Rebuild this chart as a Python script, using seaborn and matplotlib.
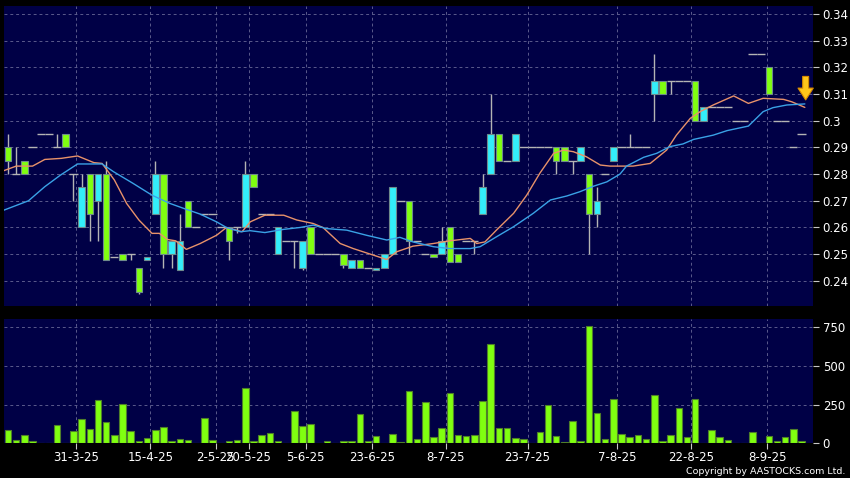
"""Daily candlestick chart with 10/20 day averages and a volume panel."""
import matplotlib
matplotlib.use("Agg")
import numpy as np
import pandas as pd
import matplotlib.pyplot as plt
import seaborn as sns

# one entry per trading day, oldest first
OPEN = [0.290, 0.280, 0.285, 0.290, 0.295, 0.295, 0.290, 0.295, 0.280, 0.260,
        0.280, 0.270, 0.280, 0.249, 0.250, 0.250, 0.245, 0.248, 0.265, 0.280,
        0.250, 0.244, 0.270, 0.260, 0.265, 0.265, 0.260, 0.260, 0.260, 0.260,
        0.280, 0.265, 0.265, 0.250, 0.255, 0.255, 0.245, 0.260, 0.250, 0.250,
        0.250, 0.250, 0.245, 0.248, 0.245, 0.244, 0.245, 0.250, 0.270, 0.270,
        0.255, 0.250, 0.250, 0.250, 0.260, 0.250, 0.255, 0.255, 0.265, 0.280,
        0.295, 0.285, 0.285, 0.290, 0.290, 0.290, 0.290, 0.290, 0.290, 0.285,
        0.285, 0.280, 0.265, 0.280, 0.285, 0.290, 0.290, 0.290, 0.290, 0.310,
        0.315, 0.315, 0.315, 0.315, 0.315, 0.300, 0.305, 0.305, 0.305, 0.300,
        0.300, 0.325, 0.325, 0.320, 0.300, 0.300, 0.290, 0.295]
CLOSE = [0.285, 0.280, 0.280, 0.290, 0.295, 0.295, 0.290, 0.290, 0.280, 0.275,
         0.265, 0.280, 0.248, 0.249, 0.248, 0.250, 0.236, 0.249, 0.280, 0.250,
         0.255, 0.255, 0.260, 0.260, 0.265, 0.265, 0.260, 0.255, 0.260, 0.280,
         0.275, 0.265, 0.265, 0.260, 0.255, 0.255, 0.255, 0.250, 0.250, 0.250,
         0.250, 0.246, 0.248, 0.245, 0.245, 0.245, 0.250, 0.275, 0.270, 0.255,
         0.255, 0.250, 0.249, 0.255, 0.247, 0.247, 0.255, 0.255, 0.275, 0.295,
         0.285, 0.285, 0.295, 0.290, 0.290, 0.290, 0.290, 0.285, 0.285, 0.285,
         0.290, 0.265, 0.270, 0.280, 0.290, 0.290, 0.290, 0.290, 0.290, 0.315,
         0.310, 0.315, 0.315, 0.315, 0.300, 0.305, 0.305, 0.305, 0.305, 0.300,
         0.300, 0.325, 0.325, 0.310, 0.300, 0.300, 0.290, 0.295]
HIGH = [0.295, 0.290, 0.285, 0.290, 0.295, 0.295, 0.295, 0.295, 0.280, 0.280,
        0.280, 0.280, 0.285, 0.249, 0.250, 0.250, 0.245, 0.249, 0.285, 0.280,
        0.255, 0.265, 0.270, 0.260, 0.265, 0.265, 0.260, 0.260, 0.260, 0.285,
        0.280, 0.265, 0.265, 0.260, 0.255, 0.255, 0.255, 0.260, 0.250, 0.250,
        0.250, 0.250, 0.248, 0.248, 0.245, 0.245, 0.250, 0.275, 0.270, 0.270,
        0.255, 0.250, 0.250, 0.260, 0.260, 0.250, 0.255, 0.255, 0.280, 0.310,
        0.295, 0.285, 0.295, 0.290, 0.290, 0.290, 0.290, 0.290, 0.290, 0.285,
        0.290, 0.280, 0.275, 0.280, 0.290, 0.290, 0.295, 0.290, 0.290, 0.325,
        0.315, 0.315, 0.315, 0.315, 0.315, 0.305, 0.305, 0.305, 0.305, 0.300,
        0.300, 0.325, 0.325, 0.320, 0.300, 0.300, 0.290, 0.295]
LOW = [0.280, 0.280, 0.280, 0.290, 0.295, 0.295, 0.290, 0.290, 0.270, 0.260,
       0.255, 0.255, 0.248, 0.249, 0.248, 0.248, 0.235, 0.248, 0.265, 0.245,
       0.245, 0.244, 0.260, 0.260, 0.265, 0.265, 0.260, 0.248, 0.258, 0.260,
       0.275, 0.265, 0.265, 0.250, 0.255, 0.245, 0.244, 0.250, 0.250, 0.250,
       0.250, 0.245, 0.245, 0.245, 0.245, 0.244, 0.245, 0.250, 0.270, 0.250,
       0.255, 0.250, 0.249, 0.250, 0.247, 0.247, 0.255, 0.250, 0.265, 0.280,
       0.285, 0.285, 0.285, 0.290, 0.290, 0.290, 0.290, 0.280, 0.285, 0.280,
       0.285, 0.250, 0.260, 0.280, 0.285, 0.290, 0.290, 0.290, 0.290, 0.300,
       0.310, 0.310, 0.315, 0.315, 0.300, 0.300, 0.305, 0.305, 0.305, 0.300,
       0.300, 0.325, 0.325, 0.310, 0.300, 0.300, 0.290, 0.295]
VOLUME = [88, 21, 54, 13, 6, 6, 118, 6, 79, 155,
          94, 279, 137, 54, 258, 79, 17, 34, 90, 109,
          13, 28, 24, 2, 167, 24, 6, 17, 24, 360,
          17, 58, 67, 19, 2, 208, 114, 127, 6, 19,
          2, 13, 13, 193, 13, 49, 2, 64, 9, 337,
          32, 266, 43, 103, 326, 58, 47, 52, 277, 640,
          103, 97, 34, 28, 4, 73, 247, 47, 9, 146,
          17, 760, 197, 28, 288, 62, 39, 56, 28, 315,
          13, 54, 227, 41, 290, 6, 86, 43, 24, 4,
          6, 77, 4, 47, 19, 39, 92, 13]

# moving averages (bar position, price)
MA10_X = [-0.5, 1, 3, 4.5, 6.5, 8.5, 10.5, 11.5, 13, 14.5, 16, 17.6, 18.5,
          19.5, 20.5, 21.8, 23.5, 25.5, 26.7, 28.6, 29.6, 31.4, 33.7, 35.3,
          37.3, 38.5, 40.6, 42.2, 44.7, 46.3, 47.5, 49.5, 52, 54, 56.5, 57.3,
          58.3, 59.7, 61.8, 63.4, 65, 66.7, 67.9, 69.1, 70.7, 72.4, 73.6,
          76.4, 78.5, 80.5, 81.7, 83.4, 84.6, 86.2, 88.7, 90.5, 92.3, 94.8,
          95.8, 97.4]
MA10_Y = [0.2813, 0.2830, 0.2830, 0.2855, 0.2859, 0.2868, 0.2843, 0.2840,
          0.2778, 0.2690, 0.2628, 0.2578, 0.2578, 0.2555, 0.2550, 0.2518,
          0.2540, 0.2571, 0.2600, 0.2584, 0.2621, 0.2646, 0.2646, 0.2628,
          0.2615, 0.2600, 0.2540, 0.2521, 0.2496, 0.2480, 0.2509, 0.2530,
          0.2540, 0.2550, 0.2559, 0.2540, 0.2546, 0.2590, 0.2653, 0.2721,
          0.2803, 0.2878, 0.2890, 0.2884, 0.2865, 0.2834, 0.2830, 0.2830,
          0.2840, 0.2890, 0.2946, 0.3009, 0.3034, 0.3059, 0.3093, 0.3065,
          0.3084, 0.3080, 0.3071, 0.3050]
MA20_X = [-0.5, 2.5, 4.5, 6.4, 8.5, 11.5, 12.9, 15.3, 17.6, 19.8, 21.8, 23.5,
          25.5, 26.7, 28.4, 29.6, 31.4, 33.7, 35.7, 37.3, 38.9, 41.4, 43.8,
          46.3, 47.9, 49.5, 52, 54, 56.5, 57.7, 59.7, 61.8, 64.2, 66.3, 68.3,
          69.9, 71.6, 73.2, 74.8, 75.6, 77.7, 79.3, 80.9, 82.5, 83.8, 86.2,
          87.9, 90.5, 92.3, 93.5, 95.2, 97.4]
MA20_Y = [0.2665, 0.2700, 0.2753, 0.2796, 0.2838, 0.2838, 0.2809, 0.2765,
          0.2721, 0.2690, 0.2668, 0.2650, 0.2621, 0.2600, 0.2584, 0.2588,
          0.2581, 0.2593, 0.2600, 0.2609, 0.2596, 0.2590, 0.2571, 0.2553,
          0.2563, 0.2546, 0.2528, 0.2521, 0.2521, 0.2528, 0.2565, 0.2603,
          0.2653, 0.2703, 0.2718, 0.2734, 0.2755, 0.2771, 0.2800, 0.2830,
          0.2863, 0.2878, 0.2903, 0.2913, 0.2930, 0.2946, 0.2963, 0.2980,
          0.3034, 0.3049, 0.3059, 0.3063]

DATE_LABELS = ["31-3-25", "15-4-25", "2-5-25", "20-5-25", "5-6-25", "23-6-25",
               "8-7-25", "23-7-25", "7-8-25", "22-8-25", "8-9-25"]
DATE_POS = [8.3, 17.4, 25.4, 29.4, 36.4, 44.5, 53.5, 63.5, 74.5, 83.5, 92.8]
PRICE_TICKS = [0.24, 0.25, 0.26, 0.27, 0.28, 0.29, 0.30, 0.31, 0.32, 0.33, 0.34]
VOLUME_TICKS = [0, 250, 500, 750]

NAVY = "#000046"
GRID = "#5a5a8c"
UP = "#33eefa"
DOWN = "#80ff10"


def style_axis(ax):
    ax.set_facecolor(NAVY)
    for s in ax.spines.values():
        s.set_visible(False)
    ax.yaxis.tick_right()
    ax.tick_params(axis="y", colors="#c8c8c8", labelcolor="white",
                   labelsize=8.5, length=4, width=0.8, pad=3)
    ax.grid(False)
    for x in DATE_POS:
        ax.axvline(x, color=GRID, lw=0.7, dashes=(3, 3), zorder=0)


def main():
    sns.set_style("dark")
    plt.rcParams["font.family"] = ["DejaVu Sans"]

    df = pd.DataFrame({"open": OPEN, "close": CLOSE, "high": HIGH,
                       "low": LOW, "volume": VOLUME})
    df["pos"] = np.arange(len(df))
    flat = df["open"] == df["close"]
    up = df["close"] > df["open"]

    fig = plt.figure(figsize=(8.5, 4.78), dpi=100, facecolor="black")
    ax = fig.add_axes([0.0047, 0.3605, 0.9518, 0.627])
    axv = fig.add_axes([0.0047, 0.0722, 0.9518, 0.2604])
    style_axis(ax)
    style_axis(axv)

    # price panel
    for y in PRICE_TICKS:
        ax.axhline(y, color=GRID, lw=0.7, dashes=(3, 3), zorder=0)
    ax.vlines(df["pos"], df["low"], df["high"], color="#b4b4b4", lw=1, zorder=2)
    ax.hlines(df.loc[flat, "close"], df.loc[flat, "pos"] - 0.5,
              df.loc[flat, "pos"] + 0.5, color="#b4b4b4", lw=1, zorder=2)
    body = df[~flat]
    bottom = body[["open", "close"]].min(axis=1)
    height = (body["open"] - body["close"]).abs()
    colors = [UP if u else DOWN for u in up[~flat]]
    ax.bar(body["pos"], height, bottom=bottom, width=0.8, color=colors,
           edgecolor="#6e8a8c", linewidth=0.8, zorder=3)
    sns.lineplot(x=MA10_X, y=MA10_Y, ax=ax, color="#e8926a", lw=1,
                 sort=False, estimator=None, zorder=4)
    sns.lineplot(x=MA20_X, y=MA20_Y, ax=ax, color="#3aa2e6", lw=1,
                 sort=False, estimator=None, zorder=4)
    ax.annotate("", xy=(97.5, 0.3078), xytext=(97.5, 0.3166),
                arrowprops=dict(facecolor="#ffc61a", edgecolor="#d88a00",
                                width=4.3, headwidth=11, headlength=8.5,
                                shrink=0, lw=0.8), zorder=5)
    ax.set_xlim(-0.49, 98.4)
    ax.set_ylim(0.2307, 0.343)
    ax.set_yticks(PRICE_TICKS)
    ax.set_yticklabels([f"{v:g}" for v in PRICE_TICKS])
    ax.set_xticks([])
    ax.set_xlabel("")
    ax.set_ylabel("")

    # volume panel
    for y in VOLUME_TICKS[1:]:
        axv.axhline(y, color=GRID, lw=0.7, dashes=(3, 3), zorder=0)
    sns.barplot(data=df, x="pos", y="volume", ax=axv, native_scale=True,
                color=DOWN, saturation=1, width=0.8, edgecolor="#4f7f2a",
                linewidth=0.8, zorder=3)
    axv.set_xlim(-0.49, 98.4)
    axv.set_ylim(0, 804)
    axv.set_yticks(VOLUME_TICKS)
    axv.set_yticklabels([str(v) for v in VOLUME_TICKS])
    axv.set_xticks(DATE_POS)
    axv.set_xticklabels(DATE_LABELS)
    axv.tick_params(axis="x", colors="#c8c8c8", labelcolor="white",
                    labelsize=8.5, length=4, width=0.8, pad=1.5, bottom=True)
    axv.set_xlabel("")
    axv.set_ylabel("")

    fig.text(0.9945, 0.0136, "Copyright by AASTOCKS.com Ltd.", color="white",
             fontsize=6.8, ha="right", va="center")

    fig.savefig("out.png", dpi=100, facecolor="black")
    plt.close(fig)


if __name__ == "__main__":
    main()
